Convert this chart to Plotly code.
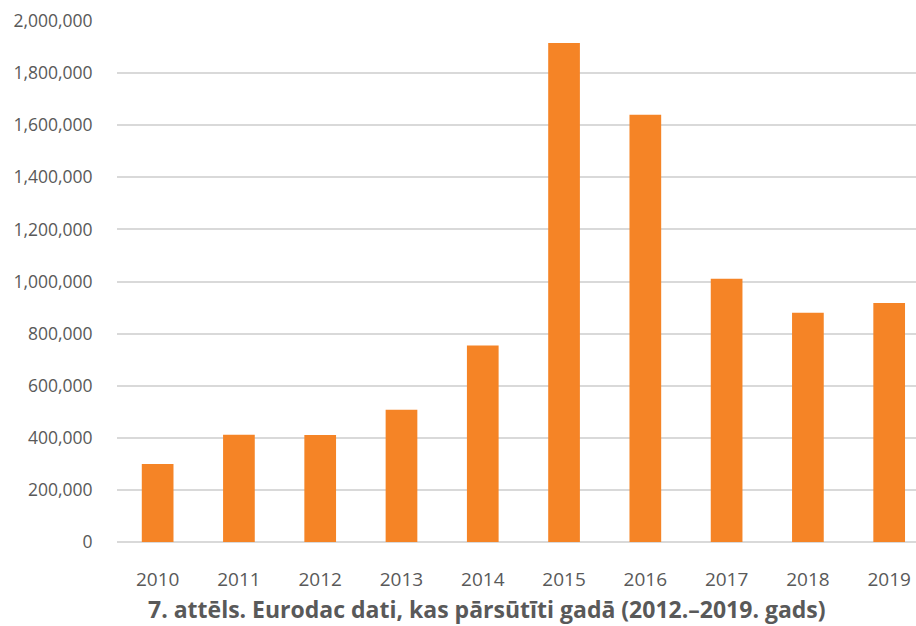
import plotly.graph_objects as go

years = ["2010", "2011", "2012", "2013", "2014", "2015", "2016", "2017", "2018", "2019"]
values = [299000, 412000, 411000, 508000, 754000, 1916000, 1640000, 1011000, 880000, 917000]
y_ticks = [0, 200000, 400000, 600000, 800000, 1000000, 1200000, 1400000, 1600000, 1800000, 2000000]
y_labels = [f"{v:,}" for v in y_ticks]
title_text = "7. attēls. Eurodac dati, kas pārsūtīti gadā (2012.–2019. gads)"

fig = go.Figure(go.Bar(
    x=list(range(len(years))), y=values,
    marker=dict(color="#F58426", line=dict(width=0)),
    hoverinfo="skip",
))

fig.update_layout(
    width=916, height=626,
    margin=dict(l=117, r=0, t=21, b=84),
    paper_bgcolor="white", plot_bgcolor="white",
    bargap=0.61,
    showlegend=False,
    font=dict(family="Open Sans, sans-serif", color="#595959"),
    xaxis=dict(
        range=[-0.5, 9.33],
        tickmode="array", tickvals=list(range(len(years))), ticktext=years,
        tickfont=dict(size=19, color="#595959"),
        ticks="outside", ticklen=20, tickcolor="rgba(0,0,0,0)",
        showgrid=False, showline=False, zeroline=False, fixedrange=True,
    ),
    yaxis=dict(
        range=[0, 2000000],
        tickmode="array", tickvals=y_ticks, ticktext=y_labels,
        tickfont=dict(size=17.5, color="#595959"),
        ticks="outside", ticklen=20, tickcolor="rgba(0,0,0,0)",
        showgrid=True, gridcolor="#d9d9d9", gridwidth=2,
        zeroline=True, zerolinecolor="#d9d9d9", zerolinewidth=2,
        showline=False, fixedrange=True,
    ),
    annotations=[dict(
        text="<b>" + title_text + "</b>",
        xref="paper", yref="paper", x=0.463, y=-0.129,
        xanchor="center", yanchor="middle", showarrow=False,
        font=dict(size=23, color="#595959"),
    )],
)

fig.write_html(
    "out.html",
    config={"displayModeBar": False, "staticPlot": True},
    post_script="document.body.style.margin='0';document.body.style.overflow='hidden';",
)
